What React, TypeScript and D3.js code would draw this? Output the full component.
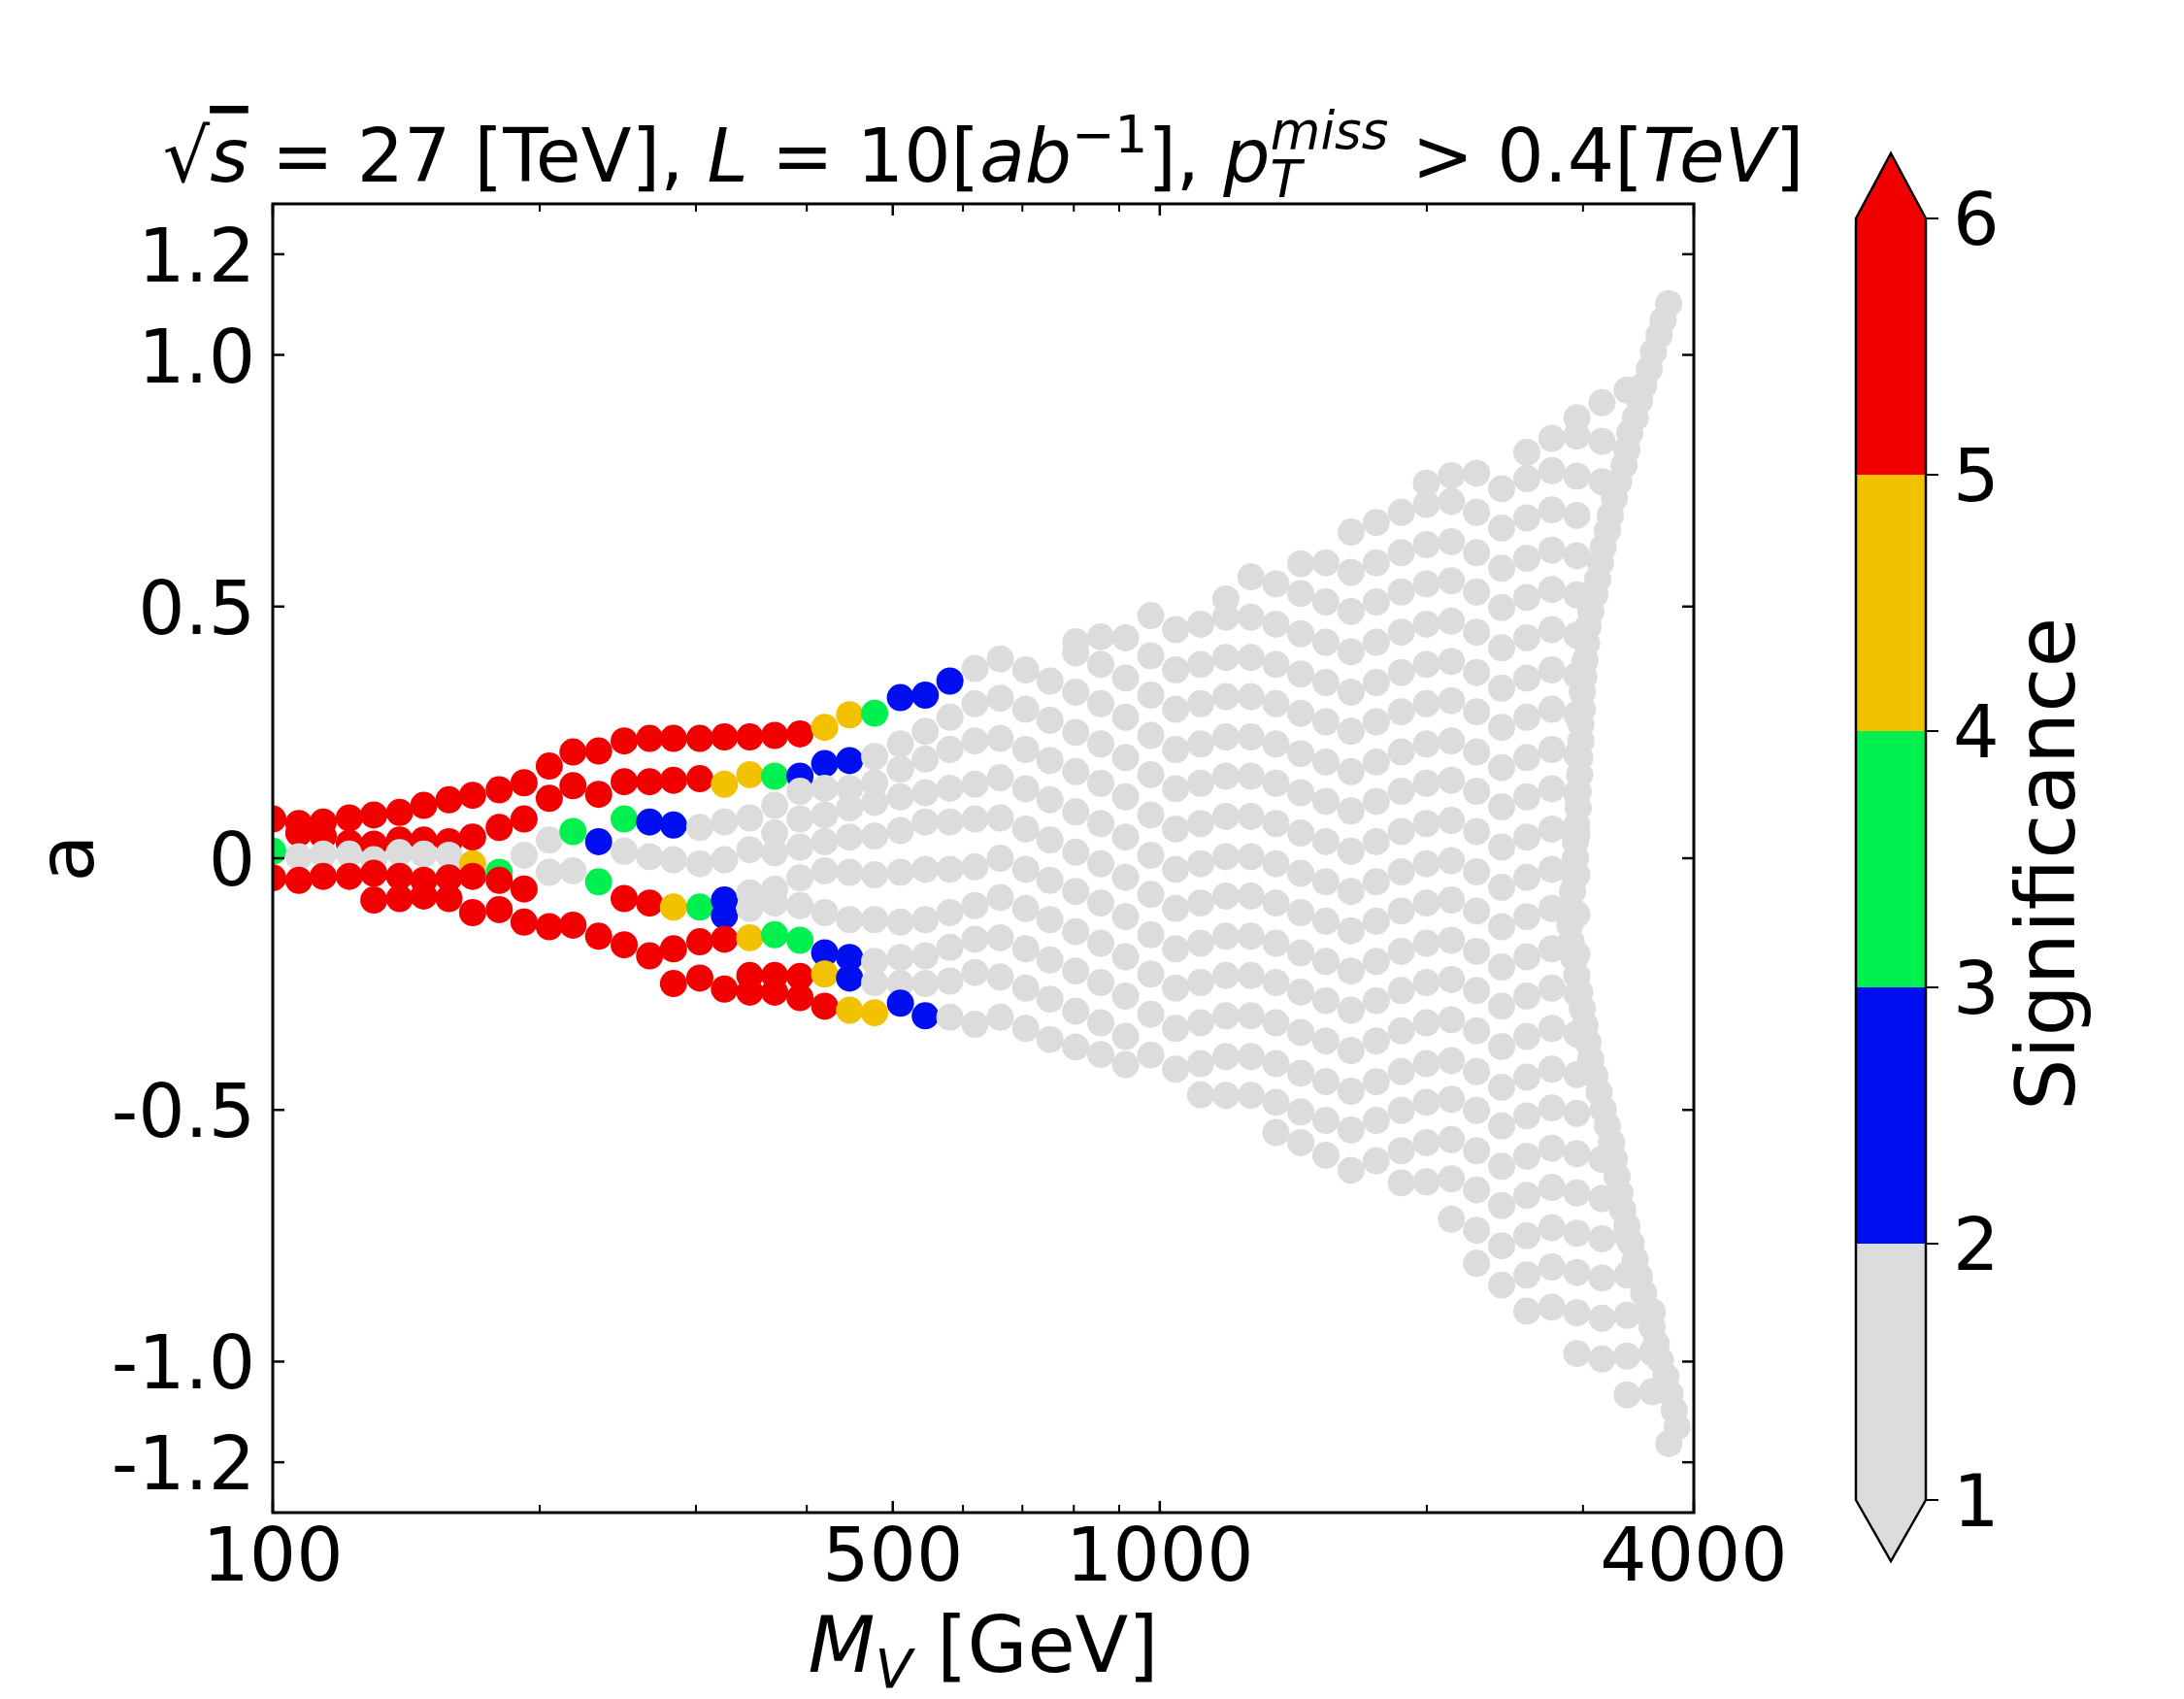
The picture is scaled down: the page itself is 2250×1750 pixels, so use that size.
import * as d3 from 'd3';

// M_V columns along which every band of scan points is sampled [GeV]
const massGrid = [
  100, 107, 114, 122, 130, 139, 148, 158, 168, 180, 192, 205, 218, 233, 249, 266, 283, 303, 323, 345,
  368, 393, 419, 447, 477, 510, 544, 580, 619, 661, 706, 752, 804, 858, 915, 977, 1042, 1112, 1187, 1267,
  1352, 1442, 1539, 1643, 1754, 1872, 1998, 2132, 2276, 2429, 2593, 2767, 2953, 3152, 3364, 3591, 3833,
];

// first massGrid column of each band
const bandStart = [0, 14, 1, 0, 20, 0, 18, 4, 19, 16, 32, 38, 41, 43, 46, 50, 52, 32, 37, 40, 45, 47, 48, 50, 52, 54];

// coupling a of each band, one value per column
const bandA: number[][] = [
  [0.078, 0.069, 0.072, 0.08, 0.086, 0.091, 0.105, 0.116, 0.125, 0.136, 0.15, 0.183, 0.211, 0.213, 0.233, 0.238, 0.238, 0.238, 0.241, 0.241,
    0.244, 0.247, 0.26, 0.285, 0.288, 0.319, 0.324, 0.352, 0.377,
    0.396, 0.374, 0.352, 0.408, 0.385, 0.358, 0.402, 0.374, 0.385, 0.399, 0.399, 0.385, 0.366, 0.349, 0.33, 0.349, 0.369, 0.385, 0.391, 0.369, 0.338, 0.358, 0.374, 0.363],
  [0.152, 0.152, 0.155, 0.158, 0.147, 0.166, 0.163, 0.163, 0.188, 0.194, 0.202, 0.227, 0.252, 0.28, 0.307,
    0.318, 0.296, 0.274, 0.33, 0.307, 0.28, 0.324, 0.296, 0.307, 0.321, 0.321, 0.307, 0.288, 0.271, 0.252, 0.271, 0.291, 0.307, 0.313, 0.291, 0.26, 0.28, 0.296, 0.285],
  [0.05, 0.044, 0.03, 0.028, 0.036, 0.036, 0.033, 0.042, 0.061, 0.078, 0.119, 0.144, 0.127, 0.078, 0.072, 0.066, 0.061, 0.072, 0.08, 0.105,
    0.133, 0.139, 0.139, 0.15, 0.177, 0.197, 0.216, 0.233,
    0.238, 0.216, 0.194, 0.25, 0.227, 0.2, 0.244, 0.216, 0.227, 0.241, 0.241, 0.227, 0.208, 0.191, 0.172, 0.191, 0.211, 0.227, 0.233, 0.211, 0.18, 0.2, 0.216, 0.205],
  [0.014, 0.003, 0.008, 0.008, -0.003, 0.011, 0.008, 0.006, -0.011, -0.028, 0.006, 0.036, 0.053, 0.033, 0.014, 0.003, -0.003, -0.011, -0.003, 0.017,
    0.05, 0.078, 0.086, 0.1, 0.111, 0.122, 0.13, 0.139, 0.147,
    0.16, 0.138, 0.116, 0.172, 0.149, 0.122, 0.166, 0.138, 0.149, 0.163, 0.163, 0.149, 0.13, 0.113, 0.094, 0.113, 0.133, 0.149, 0.155, 0.133, 0.102, 0.122, 0.138, 0.127],
  [0.011, 0.022, 0.033, 0.042, 0.044, 0.055, 0.072, 0.072, 0.078,
    0.08, 0.058, 0.036, 0.092, 0.069, 0.042, 0.086, 0.058, 0.069, 0.083, 0.083, 0.069, 0.05, 0.033, 0.014, 0.033, 0.053, 0.069, 0.075, 0.053, 0.022, 0.042, 0.058, 0.047],
  [-0.039, -0.044, -0.036, -0.036, -0.03, -0.036, -0.044, -0.039, -0.036, -0.044, -0.061, -0.028, -0.025, -0.047, -0.08, -0.089, -0.097, -0.097, -0.083, -0.069,
    -0.061, -0.039, -0.025, -0.028, -0.033, -0.028, -0.022, -0.022, -0.017,
    0, -0.022, -0.044, 0.012, -0.011, -0.038, 0.006, -0.022, -0.011, 0.003, 0.003, -0.011, -0.03, -0.047, -0.066, -0.047, -0.027, -0.011, -0.005, -0.027, -0.058, -0.038, -0.022, -0.033],
  [-0.114, -0.1, -0.089, -0.094, -0.108, -0.122, -0.122, -0.127, -0.122, -0.108, -0.094,
    -0.078, -0.1, -0.122, -0.066, -0.089, -0.116, -0.072, -0.1, -0.089, -0.075, -0.075, -0.089, -0.108, -0.125, -0.144, -0.125, -0.105, -0.089, -0.083, -0.105, -0.136, -0.116, -0.1, -0.111],
  [-0.083, -0.08, -0.075, -0.08, -0.108, -0.102, -0.127, -0.136, -0.133, -0.155, -0.172, -0.194, -0.18, -0.166, -0.161, -0.158, -0.152, -0.163, -0.188, -0.197,
    -0.205, -0.197, -0.194, -0.177, -0.161,
    -0.158, -0.18, -0.202, -0.146, -0.169, -0.196, -0.152, -0.18, -0.169, -0.155, -0.155, -0.169, -0.188, -0.205, -0.224, -0.205, -0.185, -0.169, -0.163, -0.185, -0.216, -0.196, -0.18, -0.191],
  [-0.233, -0.233, -0.235, -0.23, -0.238, -0.247, -0.249, -0.249, -0.244, -0.227,
    -0.236, -0.258, -0.28, -0.224, -0.247, -0.274, -0.23, -0.258, -0.247, -0.233, -0.233, -0.247, -0.266, -0.283, -0.302, -0.283, -0.263, -0.247, -0.241, -0.263, -0.294, -0.274, -0.258, -0.269],
  [-0.249, -0.238, -0.26, -0.266, -0.266, -0.277, -0.294, -0.302, -0.307, -0.288, -0.313, -0.316, -0.33,
    -0.316, -0.338, -0.36, -0.304, -0.327, -0.354, -0.31, -0.338, -0.327, -0.313, -0.313, -0.327, -0.346, -0.363, -0.382, -0.363, -0.343, -0.327, -0.321, -0.343, -0.374, -0.354, -0.338, -0.349],
  [0.43, 0.44, 0.438, 0.482, 0.454, 0.465, 0.479, 0.479, 0.465, 0.446, 0.429, 0.41, 0.429, 0.449, 0.465, 0.471, 0.449, 0.418, 0.438, 0.454, 0.443],
  [0.515, 0.559, 0.545, 0.526, 0.509, 0.49, 0.509, 0.529, 0.545, 0.551, 0.529, 0.498, 0.518, 0.534, 0.523],
  [0.585, 0.587, 0.568, 0.587, 0.607, 0.623, 0.629, 0.607, 0.576, 0.596, 0.612, 0.601],
  [0.648, 0.667, 0.687, 0.703, 0.709, 0.687, 0.656, 0.676, 0.692, 0.681],
  [0.745, 0.76, 0.765, 0.734, 0.754, 0.77, 0.759, 0.748],
  [0.806, 0.834, 0.839, 0.828],
  [0.875, 0.905, 0.93],
  [-0.375, -0.39, -0.41, -0.391, -0.419, -0.408, -0.394, -0.394, -0.408, -0.427, -0.444, -0.463, -0.444, -0.424, -0.408, -0.402, -0.424, -0.455, -0.435, -0.419, -0.43],
  [-0.47, -0.471, -0.471, -0.485, -0.504, -0.521, -0.54, -0.521, -0.501, -0.485, -0.479, -0.501, -0.532, -0.512, -0.496, -0.507],
  [-0.545, -0.565, -0.59, -0.62, -0.601, -0.581, -0.565, -0.559, -0.581, -0.612, -0.592, -0.576, -0.587, -0.598],
  [-0.645, -0.643, -0.637, -0.659, -0.69, -0.67, -0.654, -0.665, -0.676],
  [-0.717, -0.739, -0.77, -0.75, -0.734, -0.745, -0.756, -0.75],
  [-0.805, -0.848, -0.828, -0.812, -0.823, -0.834, -0.828],
  [-0.9, -0.892, -0.903, -0.914, -0.908, -0.901],
  [-0.984, -0.995, -0.989, -0.982],
  [-1.066, -1.06],
];

// significance of the leading points of each band (the rest stay below 2)
const bandSig: number[][] = [
  [9.1, 8.8, 8.6, 8.4, 8.3, 8.1, 7.9, 7.7, 7.5, 7.3, 7.1, 6.9, 6.8, 6.6, 6.4, 6.2, 6.0, 5.8, 5.6, 5.5, 5.3, 5.1, 4.8, 4.3, 3.6, 2.9, 2.5, 2.1],
  [6.1, 5.8, 5.5, 5.2, 4.7, 4.2, 3.4, 2.8, 2.5, 2.2],
  [8.5, 8.2, 7.9, 7.6, 7.4, 7.1, 6.9, 6.6, 6.4, 6.1, 5.8, 5.5, 5.2, 3.6, 2.8, 2.3],
  [3.2, 1.8, 1.7, 1.6, 1.6, 1.5, 1.5, 1.6, 4.1, 3.3, 1.9, 1.8, 3.1, 2.4],
  [],
  [8.8, 8.5, 8.2, 7.9, 7.6, 7.3, 7.1, 6.8, 6.5, 6.2, 5.9, 1.9, 1.9, 3.2, 5.4, 5.2, 4.4, 3.3, 2.4],
  [2.2],
  [8.0, 7.8, 7.6, 7.4, 7.2, 7.0, 6.8, 6.6, 6.4, 6.2, 6.0, 5.8, 5.6, 5.3, 5.1, 4.6, 3.8, 3.2, 2.7, 2.2],
  [5.6, 5.3, 5.1, 4.4, 2.6],
  [6.6, 6.3, 6.0, 5.8, 5.6, 5.3, 5.1, 4.7, 4.2, 2.9, 2.3],
];
const BACKGROUND_SIG = 1.5;

// points along the high-mass boundary [M_V, a]
const edgePoints: [number, number][] = [
  [3748, 1.102], [3694, 1.069], [3655, 1.039], [3602, 1.006], [3563, 0.972], [3512, 0.939], [3474, 0.909], [3436, 0.875],
  [3387, 0.845], [3362, 0.812], [3338, 0.781], [3290, 0.748], [3255, 0.715], [3220, 0.681], [3197, 0.651], [3162, 0.618],
  [3140, 0.587], [3117, 0.554], [3094, 0.524], [3061, 0.49], [3039, 0.46], [3028, 0.427], [3017, 0.393], [3006, 0.36],
  [2995, 0.33], [2995, 0.296], [2984, 0.266], [2984, 0.233], [2974, 0.199], [2974, 0.166], [2963, 0.133], [2963, 0.1],
  [2952, 0.066], [2942, 0.033], [2942, 0], [2931, -0.033], [2920, -0.066], [2910, -0.1], [2899, -0.133], [2910, -0.166],
  [2931, -0.199], [2952, -0.233], [2974, -0.266], [2995, -0.299], [3017, -0.332], [3039, -0.366], [3061, -0.399], [3094, -0.432],
  [3128, -0.465], [3162, -0.499], [3197, -0.532], [3231, -0.565], [3255, -0.598], [3278, -0.632], [3302, -0.665], [3326, -0.698],
  [3362, -0.731], [3399, -0.765], [3436, -0.798], [3474, -0.831], [3512, -0.864], [3550, -0.898], [3589, -0.931], [3628, -0.964],
  [3667, -0.997], [3721, -1.03], [3761, -1.064], [3802, -1.097], [3830, -1.13], [3748, -1.163],
];

const xTicks = [100, 500, 1000, 4000];
const xMinorTicks = [200, 300, 400, 600, 700, 800, 900, 2000, 3000];
const yTicks = [1.2, 1.0, 0.5, 0, -0.5, -1.0, -1.2];
const yTickLabels = ['1.2', '1.0', '0.5', '0', '-0.5', '-1.0', '-1.2'];
const cbarTicks = [1, 2, 3, 4, 5, 6];
const sigBounds = [2, 3, 4, 5];
const sigColors = ['#dcdcdc', '#000ff0', '#00f050', '#f2c200', '#f20000'];

const FONT = 'DejaVu Sans';

export default function App() {
  const width = 2250;
  const height = 1750;
  const plot = { left: 281, right: 1745, top: 210, bottom: 1558 };
  const cbar = { left: 1912, right: 1984, top: 225, bottom: 1545, tipTop: 158, tipBottom: 1608 };

  const xScale = d3.scaleLog().domain([100, 4000]).range([plot.left, plot.right]);
  const yScale = d3.scaleLinear().domain([-1.3, 1.3]).range([plot.bottom, plot.top]);
  const cScale = d3.scaleLinear().domain([1, 6]).range([cbar.bottom, cbar.top]);
  const color = d3.scaleThreshold<number, string>().domain(sigBounds).range(sigColors);

  const points: { mass: number; a: number; sig: number }[] = [];
  bandA.forEach((values, b) => {
    values.forEach((a, i) => {
      const sig = bandSig[b] && bandSig[b][i] !== undefined ? bandSig[b][i] : BACKGROUND_SIG;
      points.push({ mass: massGrid[bandStart[b] + i], a, sig });
    });
  });
  edgePoints.forEach(([mass, a]) => points.push({ mass, a, sig: BACKGROUND_SIG }));
  points.sort((p, q) => p.mass - q.mass);

  const cx = (plot.left + plot.right) / 2;
  const cMid = (cbar.left + cbar.right) / 2;
  const outline = [
    [cbar.left, cbar.top], [cMid, cbar.tipTop], [cbar.right, cbar.top],
    [cbar.right, cbar.bottom], [cMid, cbar.tipBottom], [cbar.left, cbar.bottom],
  ].map((p) => p.join(',')).join(' ');

  return (
    <div style={{ position: 'absolute', left: 0, top: 0 }}>
      <svg width={width} height={height} fontFamily={FONT}>
        <rect width={width} height={height} fill="#fff" />
        <defs>
          <clipPath id="plot-clip">
            <rect x={plot.left} y={plot.top} width={plot.right - plot.left} height={plot.bottom - plot.top} />
          </clipPath>
        </defs>

        {/* scan points */}
        <g clipPath="url(#plot-clip)">
          {points.map((p, i) => (
            <circle key={i} cx={xScale(p.mass)} cy={yScale(p.a)} r={14} fill={color(p.sig)} />
          ))}
        </g>

        {/* frame */}
        <rect x={plot.left} y={plot.top} width={plot.right - plot.left} height={plot.bottom - plot.top}
          fill="none" stroke="#000" strokeWidth={3} />

        {/* x ticks, mirrored on top */}
        {xTicks.map((t) => (
          <g key={'xt' + t}>
            <line x1={xScale(t)} x2={xScale(t)} y1={plot.bottom} y2={plot.bottom - 12} stroke="#000" strokeWidth={2.5} />
            <line x1={xScale(t)} x2={xScale(t)} y1={plot.top} y2={plot.top + 12} stroke="#000" strokeWidth={2.5} />
            <text x={xScale(t)} y={1628} textAnchor="middle" fontSize={76}>{t}</text>
          </g>
        ))}
        {xMinorTicks.map((t) => (
          <g key={'xm' + t}>
            <line x1={xScale(t)} x2={xScale(t)} y1={plot.bottom} y2={plot.bottom - 8} stroke="#000" strokeWidth={2} />
            <line x1={xScale(t)} x2={xScale(t)} y1={plot.top} y2={plot.top + 8} stroke="#000" strokeWidth={2} />
          </g>
        ))}

        {/* y ticks, mirrored on the right */}
        {yTicks.map((t, i) => (
          <g key={'yt' + t}>
            <line x1={plot.left} x2={plot.left + 12} y1={yScale(t)} y2={yScale(t)} stroke="#000" strokeWidth={2.5} />
            <line x1={plot.right} x2={plot.right - 12} y1={yScale(t)} y2={yScale(t)} stroke="#000" strokeWidth={2.5} />
            <text x={263} y={yScale(t) + 28} textAnchor="end" fontSize={76}>{yTickLabels[i]}</text>
          </g>
        ))}

        {/* title */}
        <text x={cx} y={187} textAnchor="middle" fontSize={76}>
          <tspan>√</tspan>
          <tspan fontStyle="italic" style={{ textDecoration: 'overline' }}>s</tspan>
          <tspan>{' = 27 [TeV], '}</tspan>
          <tspan fontStyle="italic">L</tspan>
          <tspan>{' = 10['}</tspan>
          <tspan fontStyle="italic">ab</tspan>
          <tspan fontSize={53} dy={-30}>−1</tspan>
          <tspan dy={30}>{'], '}</tspan>
          <tspan fontStyle="italic">p</tspan>
          <tspan fontStyle="italic" fontSize={53} dy={16}>T</tspan>
          <tspan fontStyle="italic" fontSize={53} dx={-32} dy={-50}>miss</tspan>
          <tspan dy={34}>{' > 0.4['}</tspan>
          <tspan fontStyle="italic">TeV</tspan>
          <tspan>]</tspan>
        </text>

        {/* axis labels */}
        <text x={cx} y={1722} textAnchor="middle" fontSize={80}>
          <tspan fontStyle="italic">M</tspan>
          <tspan fontStyle="italic" fontSize={56} dy={16}>V</tspan>
          <tspan dy={-16}>{' [GeV]'}</tspan>
        </text>
        <text transform={`translate(96, ${yScale(0)}) rotate(-90)`} textAnchor="middle" fontSize={80}>a</text>

        {/* colour bar */}
        {sigColors.map((c, i) => (
          <rect key={'cb' + i} x={cbar.left} y={cScale(i + 2)} width={cbar.right - cbar.left}
            height={cScale(i + 1) - cScale(i + 2)} fill={c} />
        ))}
        <polygon points={`${cbar.left},${cbar.top} ${cMid},${cbar.tipTop} ${cbar.right},${cbar.top}`} fill={sigColors[4]} />
        <polygon points={`${cbar.left},${cbar.bottom} ${cMid},${cbar.tipBottom} ${cbar.right},${cbar.bottom}`} fill={sigColors[0]} />
        <polygon points={outline} fill="none" stroke="#000" strokeWidth={2.5} />
        {cbarTicks.map((t) => (
          <g key={'ct' + t}>
            <line x1={cbar.right} x2={cbar.right + 13} y1={cScale(t)} y2={cScale(t)} stroke="#000" strokeWidth={2} />
            <text x={2012} y={cScale(t) + 27} fontSize={75}>{t}</text>
          </g>
        ))}
        <text transform={`translate(2137, 890) rotate(-90)`} textAnchor="middle" fontSize={84}>Significance</text>
      </svg>
    </div>
  );
}
